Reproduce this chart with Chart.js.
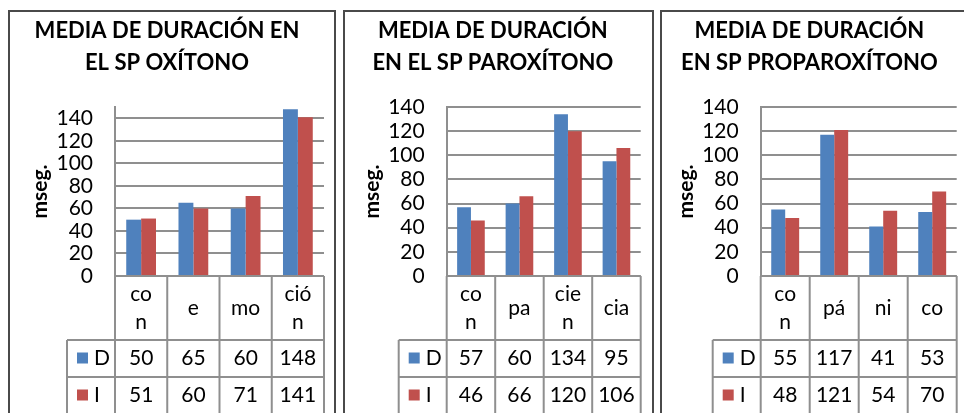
<!DOCTYPE html>
<html lang="es">
<head>
<meta charset="UTF-8">
<title>Media de duración</title>
<style>
  * { margin: 0; padding: 0; box-sizing: border-box; }
  body { width: 964px; height: 413px; overflow: hidden; background: #fff; position: relative; font-family: Lato, sans-serif; }
  .panel { position: absolute; top: 10px; height: 420px; border: 2px solid #4a4a4a; border-bottom: none; }
  .chart { position: absolute; top: 12px; height: 401px; }
</style>
</head>
<body>
  <div class="panel" style="left:8px; width:328px;"></div>
  <div class="panel" style="left:343px; width:311px;"></div>
  <div class="panel" style="left:660px; width:320px;"></div>
  <div class="chart" style="left:10px; width:323px;"><canvas id="c1"></canvas></div>
  <div class="chart" style="left:345px; width:306px;"><canvas id="c2"></canvas></div>
  <div class="chart" style="left:662px; width:296px;"><canvas id="c3"></canvas></div>

<script src="https://cdn.jsdelivr.net/npm/chart.js"></script>
<script>
// series names
const seriesNames = ['D', 'I'];
const yTicks = [0, 20, 40, 60, 80, 100, 120, 140];

// chart 1: oxítono
const title1 = ['MEDIA DE DURACIÓN EN', 'EL SP OXÍTONO'];
const cats1 = [['co', 'n'], ['e'], ['mo'], ['ció', 'n']];
const d1 = [50, 65, 60, 148];
const i1 = [51, 60, 71, 141];

// chart 2: paroxítono
const title2 = ['MEDIA DE DURACIÓN', 'EN EL SP PAROXÍTONO'];
const cats2 = [['co', 'n'], ['pa'], ['cie', 'n'], ['cia']];
const d2 = [57, 60, 134, 95];
const i2 = [46, 66, 120, 106];

// chart 3: proparoxítono
const title3 = ['MEDIA DE DURACIÓN', 'EN SP PROPAROXÍTONO'];
const cats3 = [['co', 'n'], ['pá'], ['ni'], ['co']];
const d3 = [55, 117, 41, 53];
const i3 = [48, 121, 54, 70];

const BLUE = '#4F81BD';
const RED = '#C0504D';
const LINE = '#8f8f8f';
const FS = 21;

// data table under the plot (Excel style), placed from the x scale
const tablePlugin = {
  id: 'dataTable',
  afterDraw(chart) {
    const { ctx, chartArea: a, scales: { x } } = chart;
    const labels = chart.data.labels;
    const n = labels.length;
    const cw = (a.right - a.left) / n;
    const top = a.bottom, r1 = top + 64, r2 = r1 + 37, r3 = r2 + 37;
    const legL = a.left - 48;

    ctx.save();
    ctx.strokeStyle = LINE;
    ctx.lineWidth = 2;
    ctx.beginPath();
    ctx.moveTo(a.left, top); ctx.lineTo(a.right, top);
    [r1, r2, r3].forEach(y => { ctx.moveTo(legL, y); ctx.lineTo(a.right, y); });
    for (let k = 0; k <= n; k++) {
      const xx = a.left + k * cw;
      ctx.moveTo(xx, top); ctx.lineTo(xx, r3);
    }
    ctx.moveTo(legL, r1); ctx.lineTo(legL, r3);
    ctx.stroke();

    ctx.fillStyle = '#000';
    ctx.font = FS + 'px Lato';
    ctx.textAlign = 'center';
    ctx.textBaseline = 'middle';
    labels.forEach((lab, k) => {
      const cx = x.getPixelForValue(k);
      const lines = Array.isArray(lab) ? lab : [lab];
      const mid = (top + r1) / 2;
      lines.forEach((t, j) => {
        ctx.fillText(t, cx, mid + (j - (lines.length - 1) / 2) * 28);
      });
    });

    const rows = [[r1, r2], [r2, r3]];
    chart.data.datasets.forEach((ds, s) => {
      const cy = (rows[s][0] + rows[s][1]) / 2;
      ctx.fillStyle = ds.backgroundColor;
      ctx.fillRect(legL + 10, cy - 6, 11, 11);
      ctx.fillStyle = '#000';
      ctx.textAlign = 'left';
      ctx.fillText(ds.label, legL + 27, cy);
      ctx.textAlign = 'center';
      ds.data.forEach((v, k) => ctx.fillText(String(v), x.getPixelForValue(k), cy));
    });
    ctx.restore();
  }
};

function makeChart(id, titleLines, cats, dVals, iVals, yMax, axisW, titlePad, padRight) {
  return new Chart(document.getElementById(id), {
    type: 'bar',
    data: {
      labels: cats,
      datasets: [
        { label: seriesNames[0], data: dVals, backgroundColor: BLUE },
        { label: seriesNames[1], data: iVals, backgroundColor: RED }
      ]
    },
    options: {
      responsive: true,
      maintainAspectRatio: false,
      animation: false,
      devicePixelRatio: 1,
      layout: { padding: { left: 0, right: padRight, top: 0, bottom: 137 } },
      datasets: { bar: { categoryPercentage: 0.57, barPercentage: 1 } },
      plugins: {
        legend: { display: false },
        tooltip: { enabled: false },
        title: {
          display: true,
          text: titleLines,
          color: '#000',
          font: { family: 'Lato', size: 22, weight: 'bold', lineHeight: 32 / 22 },
          padding: { top: 3, bottom: 28 }
        }
      },
      scales: {
        x: { display: false },
        y: {
          min: 0,
          max: yMax,
          afterBuildTicks: s => { s.ticks = yTicks.map(v => ({ value: v })); },
          afterFit: s => { s.width = axisW; },
          grid: { color: LINE, lineWidth: 2, drawTicks: false },
          border: { color: LINE, width: 2 },
          ticks: { color: '#000', padding: 22, autoSkip: false, font: { family: 'Lato', size: FS, lineHeight: 1 } },
          title: {
            display: true,
            text: 'mseg.',
            color: '#000',
            font: { family: 'Lato', size: 21, weight: 'bold' },
            padding: { top: titlePad - 1, bottom: 0 }
          }
        }
      }
    },
    plugins: [tablePlugin]
  });
}

makeChart('c1', title1, cats1, d1, i1, 150, 105, 19, 9);
makeChart('c2', title2, cats2, d2, i2, 140, 101.7, 15.7, 10.3);
makeChart('c3', title3, cats3, d3, i3, 140, 98.7, 12.7, 1.3);
</script>
</body>
</html>
